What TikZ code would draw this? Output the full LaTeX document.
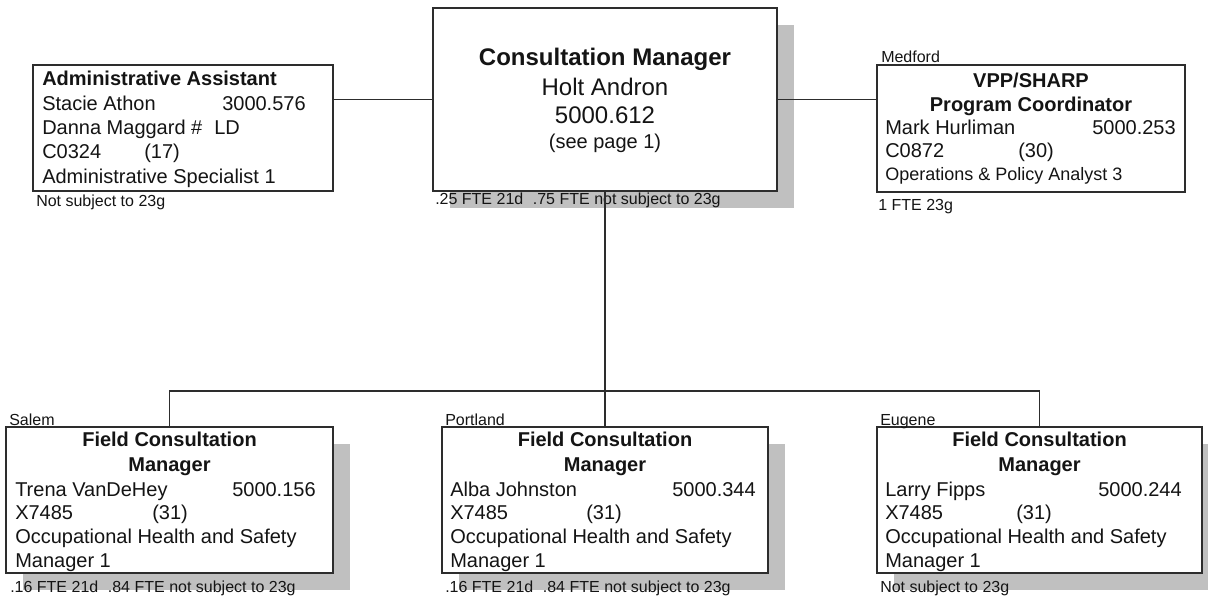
\documentclass[tikz,border=0pt]{standalone}
\usepackage{fontspec}
\setmainfont{Liberation Sans}
\usetikzlibrary{fit,shadows}
\definecolor{shadowgray}{RGB}{192,192,192}
\definecolor{inkline}{RGB}{45,45,45}
\definecolor{inktext}{RGB}{20,20,20}
\begin{document}
\begin{tikzpicture}[x=0.75pt,y=-0.75pt,
  box/.style={draw=inkline, line width=1.1pt, fill=white, inner sep=0pt, rectangle},
  shadowed/.style={drop shadow={shadow xshift=12.75pt, shadow yshift=-12.75pt, fill=shadowgray, opacity=1}},
  wire/.style={draw=inkline, line width=1pt},
  txt/.style={inner sep=0pt, anchor=base west, text=inktext, font=\fontsize{15pt}{18pt}\selectfont},
  ttl/.style={inner sep=0pt, anchor=base, text=inktext, font=\fontsize{15pt}{18pt}\selectfont\bfseries},
  big/.style={inner sep=0pt, anchor=base, text=inktext, font=\fontsize{18pt}{21pt}\selectfont},
  note/.style={inner sep=0pt, anchor=base west, text=inktext, font=\fontsize{12pt}{14pt}\selectfont},
  mid/.style={inner sep=0pt, anchor=base west, text=inktext, font=\fontsize{13.5pt}{16pt}\selectfont}]
\useasboundingbox (0,0) rectangle (1208,597);

% ---- boxes ----
\node[box, fit={(33,65) (333,191)}] (admin) {};
\node[box, shadowed, fit={(433,8) (777,191)}] (mgr) {};
\node[box, fit={(877,65) (1185,192)}] (vpp) {};
\node[box, shadowed, fit={(6,427) (333,573)}] (salem) {};
\node[box, shadowed, fit={(442,427) (768,573)}] (portland) {};
\node[box, shadowed, fit={(877,427) (1202,573)}] (eugene) {};

% ---- Administrative Assistant ----
\node[ttl, anchor=base west] (a1) at (42,85) {Administrative Assistant};
\node[txt] (a2) at (42,110) {Stacie Athon};
\node[txt] (a2n) at (222,110) {3000.576};
\node[txt] (a3) at (42,134) {Danna Maggard \#\hspace{0.6em}LD};
\node[txt] (a4) at (42,158) {C0324};
\node[txt] (a4n) at (144,158) {(17)};
\node[txt] (a5) at (42,183) {Administrative Specialist 1};
\node[note] (a6) at (36,206) {Not subject to 23g};

% ---- Consultation Manager ----
\node[big, font=\fontsize{18pt}{21pt}\selectfont\bfseries] (m1) at (605,65) {Consultation Manager};
\node[big] (m2) at (605,95) {Holt Andron};
\node[big] (m3) at (605,123) {5000.612};
\node[big, font=\fontsize{15pt}{18pt}\selectfont] (m4) at (605,148) {(see page 1)};
\node[note] (m5) at (435,204) {.25 FTE 21d\hspace{0.6em}.75 FTE not subject to 23g};

% ---- VPP/SHARP ----
\node[note] (v0) at (881,62) {Medford};
\node[ttl] (v1) at (1031,87) {VPP/SHARP};
\node[ttl] (v2) at (1031,111) {Program Coordinator};
\node[txt] (v3) at (885,134) {Mark Hurliman};
\node[txt, anchor=base east] (v3n) at (1176,134) {5000.253};
\node[txt] (v4) at (885,157) {C0872};
\node[txt] (v4n) at (1018,157) {(30)};
\node[mid] (v5) at (885,180) {Operations \& Policy Analyst 3};
\node[note] (v6) at (878,210) {1 FTE 23g};

% ---- Salem ----
\node[note] (s0) at (9,425) {Salem};
\node[ttl] (s1) at (169.5,446) {Field Consultation};
\node[ttl] (s2) at (169.5,471) {Manager};
\node[txt] (s3) at (15,496) {Trena VanDeHey};
\node[txt] (s3n) at (232,496) {5000.156};
\node[txt] (s4) at (15,519) {X7485};
\node[txt] (s4n) at (152,519) {(31)};
\node[txt] (s5) at (15,543) {Occupational Health and Safety};
\node[txt] (s6) at (15,567) {Manager 1};
\node[note] (s7) at (10,592) {.16 FTE 21d\hspace{0.6em}.84 FTE not subject to 23g};

% ---- Portland ----
\node[note] (p0) at (445,425) {Portland};
\node[ttl] (p1) at (605,446) {Field Consultation};
\node[ttl] (p2) at (605,471) {Manager};
\node[txt] (p3) at (450,496) {Alba Johnston};
\node[txt] (p3n) at (672,496) {5000.344};
\node[txt] (p4) at (450,519) {X7485};
\node[txt] (p4n) at (586,519) {(31)};
\node[txt] (p5) at (450,543) {Occupational Health and Safety};
\node[txt] (p6) at (450,567) {Manager 1};
\node[note] (p7) at (445,592) {.16 FTE 21d\hspace{0.6em}.84 FTE not subject to 23g};

% ---- Eugene ----
\node[note] (e0) at (880,425) {Eugene};
\node[ttl] (e1) at (1039.5,446) {Field Consultation};
\node[ttl] (e2) at (1039.5,471) {Manager};
\node[txt] (e3) at (885,496) {Larry Fipps};
\node[txt] (e3n) at (1098,496) {5000.244};
\node[txt] (e4) at (885,519) {X7485};
\node[txt] (e4n) at (1016,519) {(31)};
\node[txt] (e5) at (885,543) {Occupational Health and Safety};
\node[txt] (e6) at (885,567) {Manager 1};
\node[note] (e7) at (880,592) {Not subject to 23g};

% ---- connectors ----
\coordinate (bus) at (605,391);
\draw[wire] (mgr.west) -- (mgr.west -| admin.east);
\draw[wire] (mgr.east) -- (mgr.east -| vpp.west);
\draw[wire] (mgr.south) -- (portland.north);
\draw[wire] (salem.north) |- (bus) -| (eugene.north);
\end{tikzpicture}
\end{document}
